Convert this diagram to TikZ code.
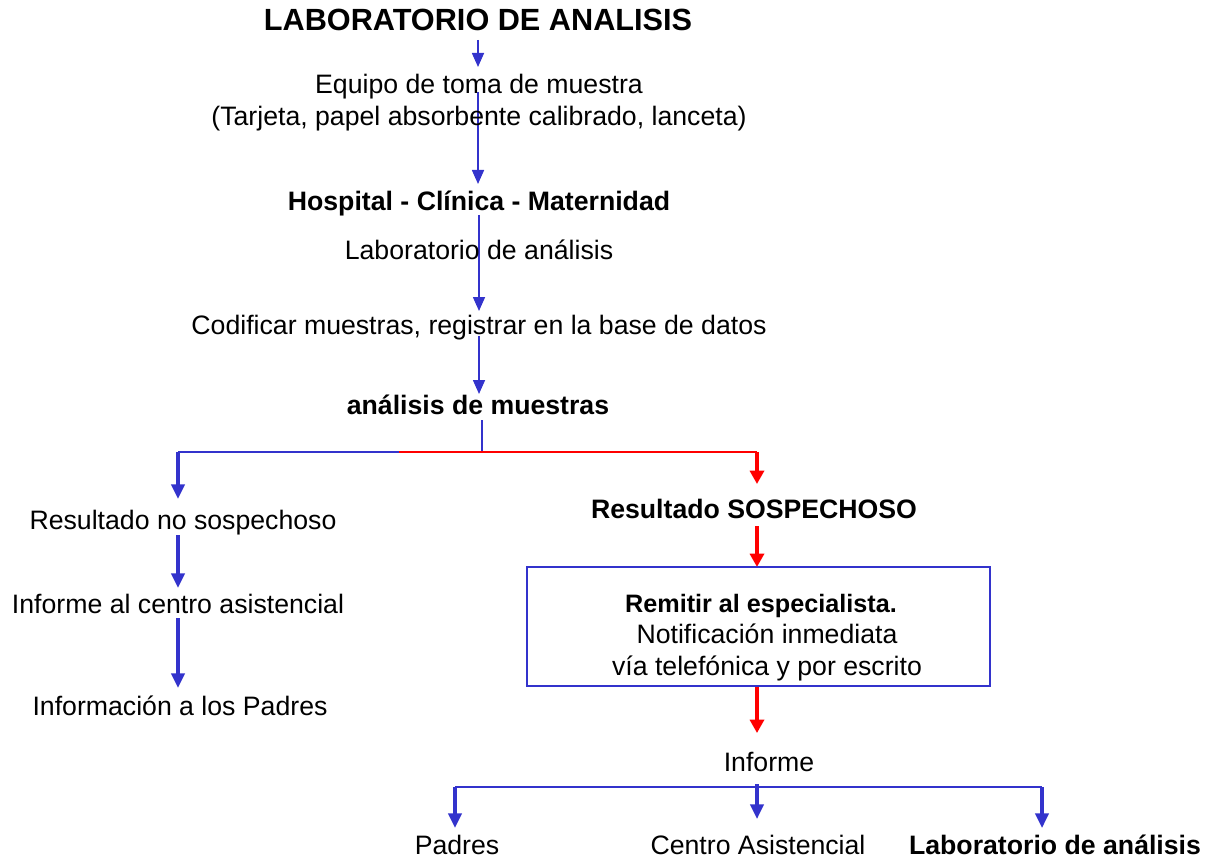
\documentclass[tikz,border=0pt]{standalone}
\usepackage{fontspec}
\setmainfont{Liberation Sans}
\usetikzlibrary{arrows.meta}
\definecolor{lblue}{RGB}{51,51,204}
\definecolor{lred}{RGB}{255,0,0}
\begin{document}
\begin{tikzpicture}[x=0.75pt,y=-0.75pt,
  txt/.style={anchor=base,inner sep=0pt,font=\fontsize{20}{24}\selectfont},
  btxt/.style={txt,font=\fontsize{20}{24}\selectfont\bfseries},
  thinarr/.style={draw=lblue,line width=1.2pt,-{Triangle[length=10.5pt,width=9pt]}},
  thickarr/.style={draw=lblue,line width=2.4pt,-{Triangle[length=11pt,width=10pt]}},
  redarr/.style={draw=lred,line width=2.4pt,-{Triangle[length=10pt,width=10.5pt]}},
  bline/.style={draw=lblue,line width=1.2pt},
  tline/.style={draw=lblue,line width=1.8pt},
  rline/.style={draw=lred,line width=1.2pt}]
\useasboundingbox (0,0) rectangle (1205,859);
% coordinates
\coordinate (a1s) at (478,40); \coordinate (a1e) at (478,67);
\coordinate (a2s) at (478,92); \coordinate (a2e) at (478,184);
\coordinate (a3s) at (479,215); \coordinate (a3e) at (479,311);
\coordinate (a4s) at (479,336); \coordinate (a4e) at (479,394);
\coordinate (a5s) at (482,420); \coordinate (j) at (482,452);
\coordinate (jl) at (178,452); \coordinate (jr) at (757,452);
\coordinate (jm) at (399,452);
\coordinate (l1e) at (178,499);
\coordinate (r1e) at (757,484);
\coordinate (l2s) at (178,535); \coordinate (l2e) at (178,588);
\coordinate (l3s) at (178,618); \coordinate (l3e) at (178,688);
\coordinate (r2s) at (757,526); \coordinate (r2e) at (757,567);
\coordinate (r3e) at (757,733);
\coordinate (b0) at (757,787); \coordinate (bl) at (455,787); \coordinate (br) at (1042,787);
\coordinate (bm) at (757,784);
\coordinate (ble) at (455,828); \coordinate (bme) at (757,819); \coordinate (bre) at (1042,828);
% connectors
\draw[thinarr] (a1s) -- (a1e);
\draw[thinarr] (a2s) -- (a2e);
\draw[thinarr] (a3s) -- (a3e);
\draw[thinarr] (a4s) -- (a4e);
\draw[bline] (a5s) -- (j);
\draw[bline] (jl) -- (j);
\draw[rline] (jm) -- (jr);
\draw[thickarr] (jl) -- (l1e);
\draw[redarr] (jr) -- (r1e);
\draw[thickarr] (l2s) -- (l2e);
\draw[thickarr] (l3s) -- (l3e);
\draw[redarr] (r2s) -- (r2e);
\node[draw=lblue,line width=0.9pt,minimum width=463*0.75pt,minimum height=119*0.75pt,inner sep=0pt] (box) at (758.5,626.5) {};
\draw[redarr] (box.south -| r3e) -- (r3e);
\draw[tline] (bl) -- (br);
\draw[thickarr] (bl) -- (ble);
\draw[thickarr] (bm) -- (bme);
\draw[thickarr] (br) -- (bre);
% texts
\node[btxt,font=\fontsize{23}{27}\selectfont\bfseries] (title) at (478,31) {LABORATORIO DE ANALISIS};
\node[txt] (eq1) at (479,94) {Equipo de toma de muestra};
\node[txt] (eq2) at (479,126) {(Tarjeta, papel absorbente calibrado, lanceta)};
\node[btxt] (hosp) at (479,211) {Hospital - Clínica - Maternidad};
\node[txt] (lab) at (479,259) {Laboratorio de análisis};
\node[txt] (cod) at (479,334) {Codificar muestras, registrar en la base de datos};
\node[btxt] (ana) at (478,414) {análisis de muestras};
\node[txt] (rns) at (183,529) {Resultado no sospechoso};
\node[btxt] (rs) at (754,518) {Resultado SOSPECHOSO};
\node[txt] (inf1) at (178,613) {Informe al centro asistencial};
\node[txt] (inf2) at (180,715) {Información a los Padres};
\node[btxt,font=\fontsize{18.9}{23}\selectfont\bfseries] (rem) at (761,612) {Remitir al especialista.};
\node[txt] (not) at (767,643) {Notificación inmediata};
\node[txt] (via) at (767,675) {vía telefónica y por escrito};
\node[txt] (inf) at (769,771) {Informe};
\node[txt] (pad) at (457,854) {Padres};
\node[txt] (cen) at (758,854) {Centro Asistencial};
\node[btxt] (lab2) at (1055,854) {Laboratorio de análisis};
\end{tikzpicture}
\end{document}
